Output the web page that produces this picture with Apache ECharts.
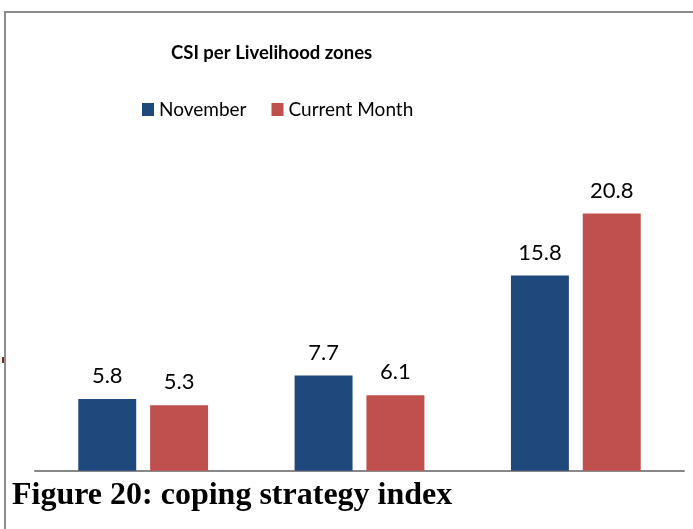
<!DOCTYPE html>
<html>
<head>
<meta charset="utf-8">
<script src="https://cdn.jsdelivr.net/npm/echarts@6/dist/echarts.min.js"></script>
<style>
  html, body { margin: 0; padding: 0; background: #fff; }
  #chart { width: 693px; height: 529px; }
</style>
</head>
<body>
<div id="chart"></div>
<script>
// 生计区 CSI 数据
const zones = ['Zone 1', 'Zone 2', 'Zone 3']
const november = [5.8, 7.7, 15.8]
const currentMonth = [5.3, 6.1, 20.8]

const chart = echarts.init(document.getElementById('chart'))
const labelFont = 'Lato, "Open Sans", sans-serif'

const option = {
  animation: false,
  title: {
    text: 'CSI per Livelihood zones',
    left: 166,
    top: 39,
    textStyle: { fontFamily: labelFont, fontSize: 18.5, fontWeight: 'bold', color: '#000' },
  },
  legend: {
    top: 95,
    left: 137,
    itemWidth: 12,
    itemHeight: 13,
    itemGap: 25,
    icon: 'rect',
    textStyle: { fontFamily: labelFont, fontSize: 19, color: '#000' },
    data: ['November', 'Current Month'],
  },
  grid: {
    left: 35,
    right: 9,
    top: 161.7,
    bottom: 58.3,
    containLabel: false,
  },
  xAxis: {
    type: 'category',
    data: zones,
    axisLine: { lineStyle: { color: '#888', width: 2 } },
    axisTick: { show: false },
    axisLabel: { show: false },
  },
  yAxis: {
    type: 'value',
    min: 0,
    max: 25,
    show: false,
  },
  series: [
    {
      name: 'November',
      type: 'bar',
      data: november,
      barGap: '24%',
      barCategoryGap: '40%',
      itemStyle: { color: '#1F497D' },
      label: {
        show: true,
        position: 'top',
        distance: 12,
        fontFamily: labelFont,
        fontSize: 22,
        color: '#000',
      },
    },
    {
      name: 'Current Month',
      type: 'bar',
      data: currentMonth,
      itemStyle: { color: '#C0504D' },
      label: {
        show: true,
        position: 'top',
        distance: 12,
        fontFamily: labelFont,
        fontSize: 22,
        color: '#000',
      },
    },
  ],
  graphic: [
    // 图表边框（左、上）
    {
      type: 'polyline',
      shape: { points: [[5, 529], [5, 12], [693, 12]] },
      style: { stroke: '#8c8c8c', lineWidth: 2, fill: null },
      z: 10,
    },
    {
      type: 'rect',
      shape: { x: 2, y: 357, width: 3, height: 6 },
      style: { fill: '#7a2a2a' },
    },
    // 图注
    {
      type: 'text',
      x: 12,
      y: 480,
      style: {
        text: 'Figure 20: coping strategy index',
        font: 'bold 32px "Liberation Serif", "Times New Roman", serif',
        fill: '#000',
      },
      z: 10,
    },
  ],
}

chart.setOption(option)
</script>
</body>
</html>
